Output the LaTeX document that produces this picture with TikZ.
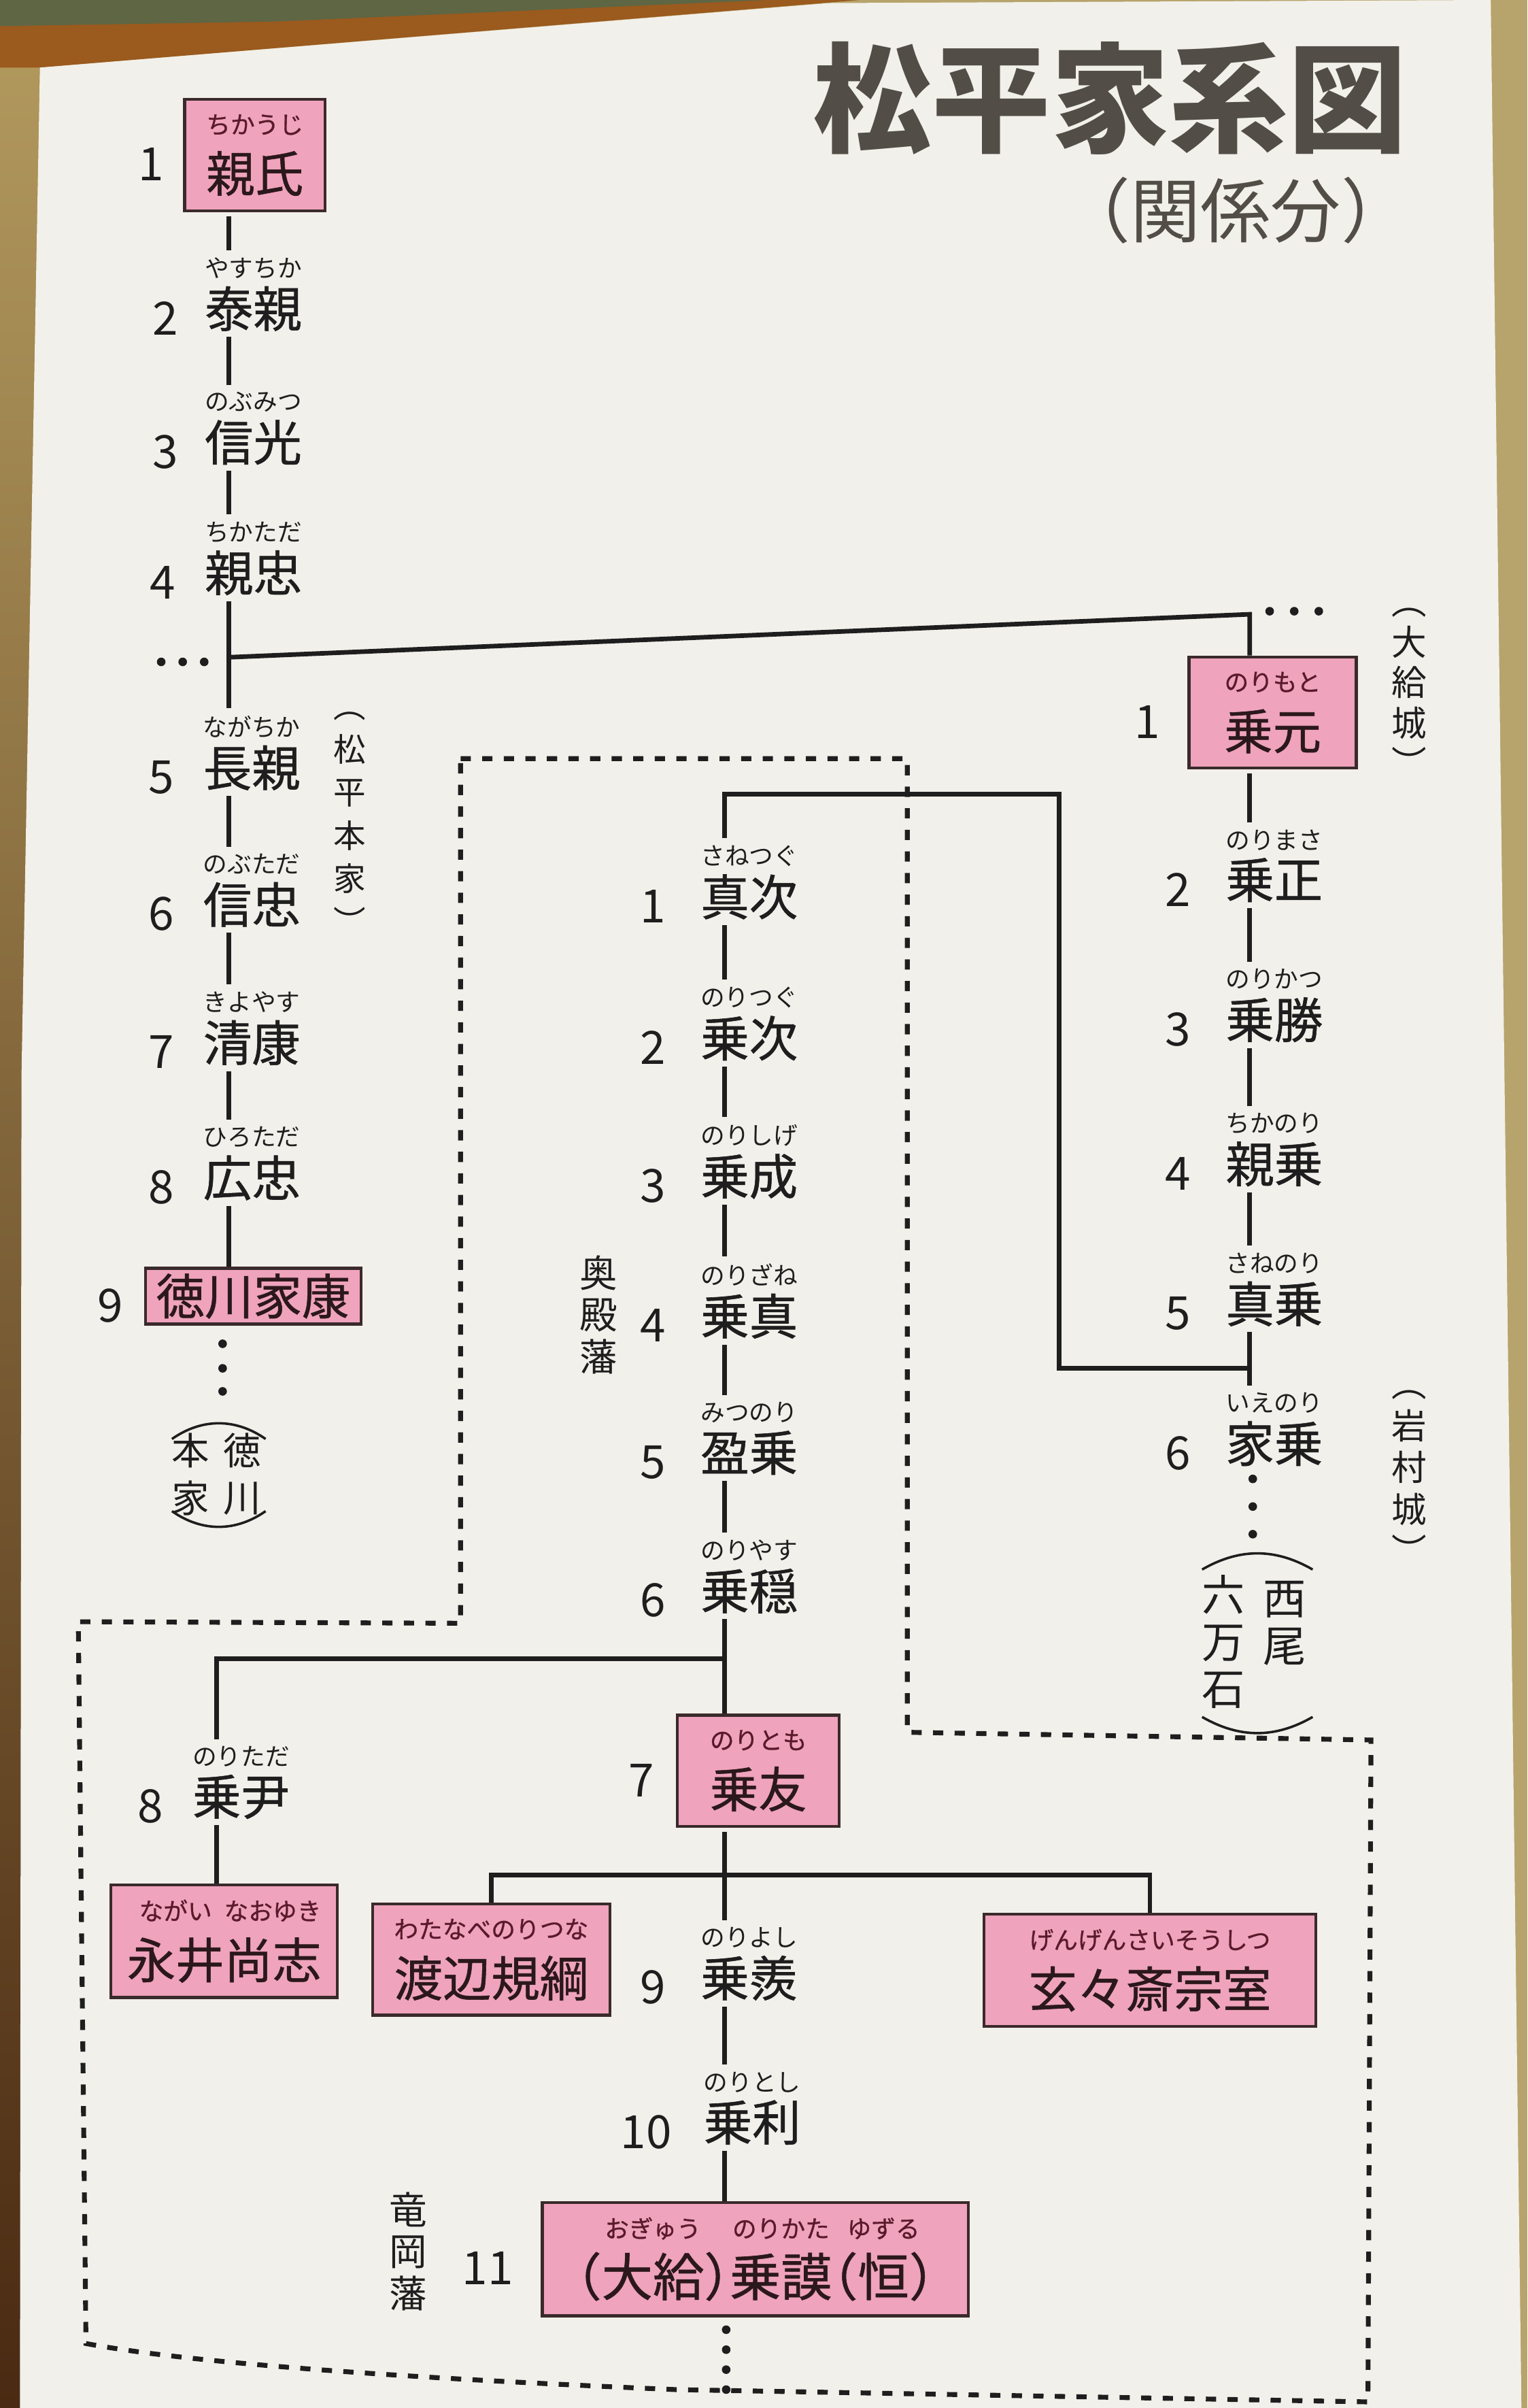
\documentclass[tikz,border=0pt]{standalone}
\usepackage{fontspec}
\setmainfont{Noto Sans CJK JP}
\newfontfamily\namefam{Noto Sans CJK JP}[BoldFont={Noto Sans CJK JP}, BoldFeatures={FakeBold=0.8}]
\usepackage{tikz}
\usetikzlibrary{positioning}

\definecolor{paper}{HTML}{F2F0EA}
\definecolor{pinkbox}{HTML}{EFA3BC}
\definecolor{boxline}{HTML}{3A2A2C}
\definecolor{boxink}{HTML}{2B181C}
\definecolor{rubyred}{HTML}{5A1A2C}
\definecolor{inkc}{HTML}{1E1E1E}
\definecolor{titlegray}{HTML}{524D47}
\definecolor{edgegold}{HTML}{B7A46C}
\definecolor{leftgold}{HTML}{B39A5E}
\definecolor{leftbrown}{HTML}{8E5424}
\definecolor{darkbrown}{HTML}{4A2A12}
\definecolor{bandbrown}{HTML}{9B5A1E}
\definecolor{olivebg}{HTML}{5E6644}

\newcommand\nmfont{\namefam\bfseries\fontsize{18}{21.6}\selectfont}
\newcommand\rbfont{\fontsize{9}{10}\selectfont}

\begin{document}
\begin{tikzpicture}[x=0.02cm, y=-0.02cm,
    nm/.style={font=\nmfont, text=inkc, inner sep=0.5pt},
    rb/.style={font=\rbfont, text=inkc, inner sep=0pt},
    num/.style={font=\fontsize{17}{17}\selectfont, text=inkc, inner sep=0pt, yshift=-3.5pt},
    box/.style={draw=boxline, fill=pinkbox, line width=1.1pt, font=\nmfont,
                text=boxink, align=center, inner xsep=8pt, inner ysep=5.5pt},
    vt/.style={align=center, inner sep=0pt, text=inkc},
    link/.style={line width=1.7pt, draw=inkc},
    gen/.style={link, shorten <=1.5pt, shorten >=2.5pt},
    genb/.style={link, shorten <=1.5pt},
    fief/.style={line width=1.8pt, draw=inkc, dash pattern=on 3.8pt off 4.2pt},
    paren/.style={line width=0.9pt, draw=inkc}
  ]
  \useasboundingbox (0,0) rectangle (995,1568);

  % photo edge and page
  \fill[edgegold] (0,0) rectangle (995,1568);
  \shade[top color=leftgold, middle color=leftbrown, bottom color=darkbrown] (0,0) rectangle (40,1568);
  \fill[bandbrown] (0,0) -- (560,0) -- (26,44) -- (0,44) -- cycle;
  \fill[olivebg] (0,0) -- (500,0) -- (180,14) -- (0,17) -- cycle;
  \fill[paper] (26,44) -- (540,2) -- (971,0) -- (991,1568) -- (13,1568) -- (14,700) -- cycle;

  % domains
  \draw[fief] (300,494) -- (591,494) -- (591,1128) -- (893,1133) -- (891,1564)
    -- (440,1556) .. controls (250,1548) and (120,1538) .. (56,1526)
    -- (51,1056) -- (300,1057) -- cycle;

  % title
  \node[font=\fontsize{44}{44}\selectfont\bfseries, text=titlegray] (title) at (723,64) {松平家系図};
  \node[font=\fontsize{26}{26}\selectfont, text=titlegray] (subtitle) at (805,137) {（関係分）};

  % column lines
  \coordinate (colA) at (149,0);
  \coordinate (colB) at (472,0);
  \coordinate (colC) at (814,0);
  \coordinate (colD) at (141,0);

  % main line
  \node[box, minimum width=52pt] (chikauji) at (166,101) {{\rbfont\color{rubyred}ちかうじ}\\親氏};
  \node[num, left=7pt of chikauji] (chikauji-n) {1};
  \node[nm] (yasuchika) at (165,201) {泰親};
  \node[rb, above=2pt of yasuchika] (yasuchika-r) {やすちか};
  \node[num, left=9pt of yasuchika] (yasuchika-n) {2};
  \node[nm] (nobumitsu) at (165,288) {信光};
  \node[rb, above=2pt of nobumitsu] (nobumitsu-r) {のぶみつ};
  \node[num, left=9pt of nobumitsu] (nobumitsu-n) {3};
  \node[nm] (chikatada) at (165,373) {親忠};
  \node[rb, above=2pt of chikatada] (chikatada-r) {ちかただ};
  \node[num, left=10pt of chikatada] (chikatada-n) {4};
  \node[nm] (nagachika) at (164,500) {長親};
  \node[rb, above=2pt of nagachika] (nagachika-r) {ながちか};
  \node[num, left=10pt of nagachika] (nagachika-n) {5};
  \node[nm] (nobutada) at (164,589) {信忠};
  \node[rb, above=2pt of nobutada] (nobutada-r) {のぶただ};
  \node[num, left=10pt of nobutada] (nobutada-n) {6};
  \node[nm] (kiyoyasu) at (164,679) {清康};
  \node[rb, above=2pt of kiyoyasu] (kiyoyasu-r) {きよやす};
  \node[num, left=10pt of kiyoyasu] (kiyoyasu-n) {7};
  \node[nm] (hirotada) at (164,767) {広忠};
  \node[rb, above=2pt of hirotada] (hirotada-r) {ひろただ};
  \node[num, left=10pt of hirotada] (hirotada-n) {8};
  \node[box, minimum width=80pt, inner xsep=4pt, inner ysep=2pt] (ieyasu) at (165,844) {徳川家康};
  \node[num, left=7.5pt of ieyasu] (ieyasu-n) {9};

  % Ogyu line
  \node[box, minimum width=62pt] (norimoto) at (829,464) {{\rbfont\color{rubyred}のりもと}\\乗元};
  \node[num, left=10pt of norimoto] (norimoto-n) {1};
  \node[nm] (norimasa) at (830,573) {乗正};
  \node[rb, above=2pt of norimasa] (norimasa-r) {のりまさ};
  \node[num, left=12pt of norimasa] (norimasa-n) {2};
  \node[nm] (norikatsu) at (830,664) {乗勝};
  \node[rb, above=2pt of norikatsu] (norikatsu-r) {のりかつ};
  \node[num, left=12pt of norikatsu] (norikatsu-n) {3};
  \node[nm] (chikanori) at (830,758) {親乗};
  \node[rb, above=2pt of chikanori] (chikanori-r) {ちかのり};
  \node[num, left=12pt of chikanori] (chikanori-n) {4};
  \node[nm] (sanenori) at (830,849) {真乗};
  \node[rb, above=2pt of sanenori] (sanenori-r) {さねのり};
  \node[num, left=12pt of sanenori] (sanenori-n) {5};
  \node[nm] (ienori) at (830,940) {家乗};
  \node[rb, above=2pt of ienori] (ienori-r) {いえのり};
  \node[num, left=12pt of ienori] (ienori-n) {6};

  % Okudono / Tatsuoka line
  \node[nm] (sanetsugu) at (488,584) {真次};
  \node[rb, above=2pt of sanetsugu] (sanetsugu-r) {さねつぐ};
  \node[num, left=12pt of sanetsugu] (sanetsugu-n) {1};
  \node[nm] (noritsugu) at (488,676) {乗次};
  \node[rb, above=2pt of noritsugu] (noritsugu-r) {のりつぐ};
  \node[num, left=12pt of noritsugu] (noritsugu-n) {2};
  \node[nm] (norishige) at (488,766) {乗成};
  \node[rb, above=2pt of norishige] (norishige-r) {のりしげ};
  \node[num, left=12pt of norishige] (norishige-n) {3};
  \node[nm] (norizane) at (488,857) {乗真};
  \node[rb, above=2pt of norizane] (norizane-r) {のりざね};
  \node[num, left=12pt of norizane] (norizane-n) {4};
  \node[nm] (mitsunori) at (488,946) {盈乗};
  \node[rb, above=2pt of mitsunori] (mitsunori-r) {みつのり};
  \node[num, left=12pt of mitsunori] (mitsunori-n) {5};
  \node[nm] (noriyasu) at (488,1036) {乗穏};
  \node[rb, above=2pt of noriyasu] (noriyasu-r) {のりやす};
  \node[num, left=12pt of noriyasu] (noriyasu-n) {6};
  \node[box, minimum width=60pt] (noritomo) at (494,1153) {{\rbfont\color{rubyred}のりとも}\\乗友};
  \node[num, left=8pt of noritomo] (noritomo-n) {7};
  \node[nm] (noriyoshi) at (488,1288) {乗羨};
  \node[rb, above=2pt of noriyoshi] (noriyoshi-r) {のりよし};
  \node[num, left=12pt of noriyoshi] (noriyoshi-n) {9};
  \node[nm] (noritoshi) at (490,1382) {乗利};
  \node[rb, above=2pt of noritoshi] (noritoshi-r) {のりとし};
  \node[num, left=11pt of noritoshi] (noritoshi-n) {10};
  \node[box, minimum width=158pt, inner xsep=6pt] (norikata) at (492,1471)
    {{\rbfont\color{rubyred}\makebox[57pt]{おぎゅう}\makebox[38pt]{のりかた}\makebox[38pt]{ゆずる}}\\
     {\fontsize{19}{21.6}\selectfont\addfontfeature{RawFeature=+halt}（大給）乗謨（恒）}};
  \node[num, left=10pt of norikata] (norikata-n) {11};

  % side branches
  \node[nm] (noritada) at (157,1170) {乗尹};
  \node[rb, above=2pt of noritada] (noritada-r) {のりただ};
  \node[num, left=10pt of noritada] (noritada-n) {8};
  \node[box, minimum width=84pt, inner xsep=6pt] (nagai) at (146,1264)
    {{\rbfont\color{rubyred}\makebox[36pt]{ながい}\makebox[36pt]{なおゆき}}\\永井尚志};
  \node[box, minimum width=88pt] (watanabe) at (320,1276) {{\rbfont\color{rubyred}わたなべのりつな}\\渡辺規綱};
  \node[box, minimum width=123pt] (gengen) at (749,1283) {{\rbfont\color{rubyred}げんげんさいそうしつ}\\玄々斎宗室};

  % side notes
  \node[vt, font=\fontsize{12}{16}\selectfont] (honke) at (228,536) {︵\\松\\平\\本\\家\\︶};
  \node[vt, font=\fontsize{13}{15}\selectfont] (ogyujo) at (918,451) {︵\\大\\給\\城\\︶};
  \node[vt, font=\fontsize{13}{15.5}\selectfont] (iwamurajo) at (918,962) {︵\\岩\\村\\城\\︶};
  \node[vt, font=\fontsize{14}{15.5}\selectfont] (okudono) at (390,856) {奥\\殿\\藩};
  \node[vt, font=\fontsize{14}{15.5}\selectfont] (tatsuoka) at (266,1466) {竜\\岡\\藩};
  \node[vt, font=\fontsize{14}{17.5}\selectfont] (tokugawa) at (158,960) {徳\\川};
  \node[vt, font=\fontsize{14}{17.5}\selectfont] (soke) at (124,960) {本\\家};
  \node[vt, font=\fontsize{16}{17.5}\selectfont] (nishio) at (837,1057) {西\\尾};
  \node[vt, font=\fontsize{16}{17.5}\selectfont] (rokuman) at (797,1069) {六\\万\\石};
  \draw[paren] (112,937) to[bend left=35] (173,937);
  \draw[paren] (112,984) to[bend right=35] (173,984);
  \draw[paren] (783,1022) to[bend left=30] (855,1022);
  \draw[paren] (783,1118) to[bend right=30] (855,1118);

  % main line links
  \draw[gen] (chikauji.south -| colA) -- (yasuchika-r.north -| colA);
  \draw[gen] (yasuchika.south -| colA) -- (nobumitsu-r.north -| colA);
  \draw[gen] (nobumitsu.south -| colA) -- (chikatada-r.north -| colA);
  \draw[gen] (chikatada.south -| colA) -- (nagachika-r.north -| colA);
  \draw[gen] (nagachika.south -| colA) -- (nobutada-r.north -| colA);
  \draw[gen] (nobutada.south -| colA) -- (kiyoyasu-r.north -| colA);
  \draw[gen] (kiyoyasu.south -| colA) -- (hirotada-r.north -| colA);
  \draw[genb] (hirotada.south -| colA) -- (ieyasu.north -| colA);

  % branch to Ogyu
  \coordinate (forkA) at (149,428);
  \coordinate (forkAe) at (814,400);
  \draw[link] (forkA) -- (forkAe) -- (norimoto.north -| colC);
  \draw[gen] (norimoto.south -| colC) -- (norimasa-r.north -| colC);
  \draw[gen] (norimasa.south -| colC) -- (norikatsu-r.north -| colC);
  \draw[gen] (norikatsu.south -| colC) -- (chikanori-r.north -| colC);
  \draw[gen] (chikanori.south -| colC) -- (sanenori-r.north -| colC);
  \draw[gen] (sanenori.south -| colC) -- (ienori-r.north -| colC);

  % branch to Okudono
  \coordinate (bendB) at (690,517);
  \coordinate (bendBe) at (690,891);
  \draw[link, shorten <=2.5pt] (sanetsugu-r.north -| colB) |- (bendB) -- (bendBe) -- (bendBe -| colC);
  \draw[gen] (sanetsugu.south -| colB) -- (noritsugu-r.north -| colB);
  \draw[gen] (noritsugu.south -| colB) -- (norishige-r.north -| colB);
  \draw[gen] (norishige.south -| colB) -- (norizane-r.north -| colB);
  \draw[gen] (norizane.south -| colB) -- (mitsunori-r.north -| colB);
  \draw[gen] (mitsunori.south -| colB) -- (noriyasu-r.north -| colB);
  \draw[genb] (noriyasu.south -| colB) -- (noritomo.north -| colB);
  \coordinate (forkC) at (472,1080);
  \draw[link, shorten >=2.5pt] (forkC) -| (noritada-r.north -| colD);
  \draw[genb] (noritada.south -| colD) -- (nagai.north -| colD);
  \draw[gen] (noritomo.south -| colB) -- (noriyoshi-r.north -| colB);
  \coordinate (forkD) at (472,1221);
  \draw[link] (watanabe.north) |- (forkD) -| (gengen.north);
  \draw[gen] (noriyoshi.south -| colB) -- (noritoshi-r.north -| colB);
  \draw[genb] (noritoshi.south -| colB) -- (norikata.north -| colB);

  % continuation dots
  \foreach \x in {105,119,133} \fill[inkc] (\x,431) circle (2.8);
  \foreach \x in {827,843,859} \fill[inkc] (\x,398) circle (2.8);
  \foreach \y in {875,891,906} \fill[inkc] (145,\y) circle (2.8);
  \foreach \y in {963,981,999} \fill[inkc] (816,\y) circle (2.8);
  \foreach \y in {1517,1530,1543,1556} \fill[inkc] (473,\y) circle (2.8);
\end{tikzpicture}
\end{document}
